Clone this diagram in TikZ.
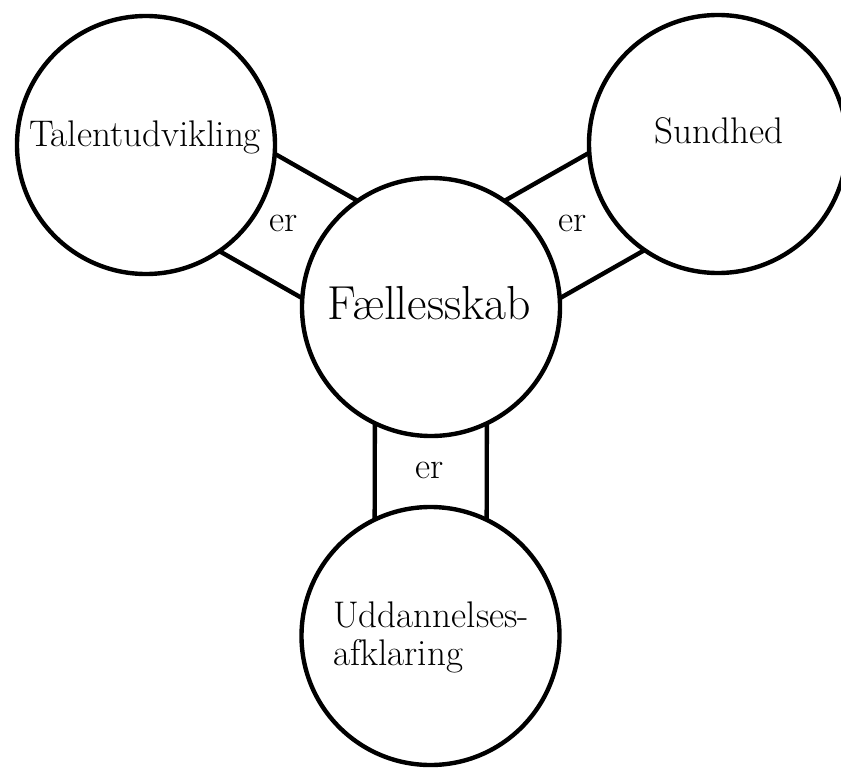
\documentclass[tikz,border=0pt]{standalone}
\usetikzlibrary{calc,backgrounds}
\begin{document}
\begin{tikzpicture}[x=0.75pt,y=-0.75pt,
  bubble/.style={circle,draw=black,fill=white,line width=3.3pt,minimum size=193.5pt,inner sep=0pt},
  band/.style={draw=black,line width=3.3pt},
  lbl/.style={anchor=base,inner sep=0pt,font=\fontsize{27.8pt}{28.5pt}\selectfont},
  big/.style={anchor=base,inner sep=0pt,font=\fontsize{35.8pt}{40pt}\selectfont}]
\useasboundingbox (0,0) rectangle (841,767);
\node[bubble] (tal) at (146,145) {};
\node[bubble] (sun) at (718,144) {};
\node[bubble] (fae) at (431,307) {};
\node[bubble] (udd) at (430.5,636) {};
\begin{scope}[on background layer]
\foreach \a/\b in {tal/fae,sun/fae,fae/udd}{
  \draw[band] ($(\a)!42pt!90:(\b)$) -- ($(\b)!42pt!-90:(\a)$);
  \draw[band] ($(\a)!42pt!-90:(\b)$) -- ($(\b)!42pt!90:(\a)$);
}
\end{scope}
\node[lbl] (taltxt) at (145,146) {Talentudvikling};
\node[lbl] (suntxt) at (719,143) {Sundhed};
\node[big] (faetxt) at (429,319) {Fællesskab};
\node[lbl,anchor=base west,align=left] (uddtxt) at (333,665) {Uddannelses-\\afklaring};
\node[lbl] (er1) at (284,231) {er};
\node[lbl] (er2) at (573,231) {er};
\node[lbl] (er3) at (430,478) {er};
\end{tikzpicture}
\end{document}
